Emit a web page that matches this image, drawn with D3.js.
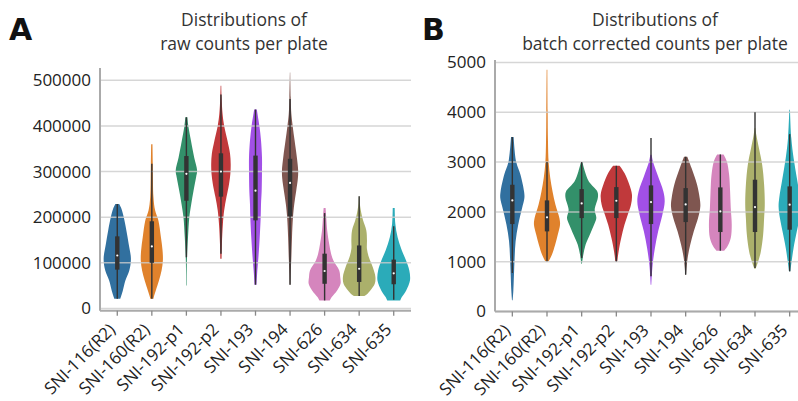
<!DOCTYPE html>
<html>
<head>
<meta charset="utf-8">
<script src="https://cdn.jsdelivr.net/npm/d3@7"></script>
<style>
  body { margin: 0; background: #fff; }
  svg { display: block; font-family: "Open Sans", sans-serif; }
</style>
</head>
<body>
<div id="chart"></div>
<script>
// plates, same order in both panels
var plates = ['SNI-116(R2)', 'SNI-160(R2)', 'SNI-192-p1', 'SNI-192-p2', 'SNI-193',
              'SNI-194', 'SNI-626', 'SNI-634', 'SNI-635'];

var plate_colors = ['#31709f', '#e0822c', '#33906a', '#c0393b', '#a150e6',
                    '#7f5650', '#d585bd', '#abb06b', '#2babb9'];

// violin outlines: [count, density]
var raw_profiles = [
  [[229000,6],[220000,12],[200000,20],[171000,28],[142000,35],[109000,42],[83000,37],[61000,25],[39000,17],[25000,11],[21000,9]],
  [[360000,2],[317000,3],[244000,5],[215000,10],[193000,20],[156000,28],[127000,33],[105000,34],[83000,30],[61000,22],[39000,12],[25000,6],[21000,5]],
  [[419000,3],[400000,6],[368000,14],[331000,24],[302000,33],[288000,30],[258000,22],[229000,15],[200000,9],[156000,5],[112000,2],[80000,1],[50000,0.8]],
  [[488000,1],[463000,2],[426000,5],[400000,10],[368000,20],[339000,28],[317000,30],[295000,29],[273000,25],[244000,17],[215000,10],[185000,6],[142000,3],[109000,2]],
  [[436000,4],[400000,12],[368000,17],[331000,20],[302000,20],[258000,19],[229000,17],[200000,16],[156000,13],[112000,9],[76000,5],[52000,3]],
  [[517000,0.5],[463000,2],[426000,4],[400000,8],[368000,14],[331000,21],[302000,25],[284000,24],[258000,19],[229000,13],[200000,9],[156000,6],[112000,4],[76000,2],[52000,1]],
  [[220000,3],[200000,5],[171000,8],[142000,14],[120000,20],[105000,27],[83000,45],[69000,48],[54000,49],[39000,38],[25000,22],[17500,16]],
  [[246000,1],[230000,2],[215000,5],[193000,12],[171000,22],[150000,24],[130000,24],[112000,30],[90000,42],[69000,50],[54000,48],[40000,35],[30000,22],[27000,15]],
  [[220000,3],[185000,5],[156000,12],[127000,25],[105000,38],[83000,48],[61000,50],[39000,38],[25000,25],[17500,20]]
];

// [whisker low, q1, median, q3, whisker high]
var raw_boxes = [
  [21000, 85000, 116000, 158000, 229000],
  [21000, 100000, 136000, 191000, 317000],
  [112000, 236000, 295000, 334000, 419000],
  [120000, 245000, 300000, 340000, 469000],
  [52000, 193000, 258000, 335000, 436000],
  [52000, 202000, 275000, 328000, 459000],
  [17500, 54000, 82000, 120000, 209000],
  [27000, 58000, 87000, 138000, 246000],
  [19000, 53000, 77000, 107000, 180000]
];

var batch_profiles = [
  [[3502,4],[3000,12],[2746,25],[2411,36],[2278,37],[2077,30],[1742,18],[1408,10],[1074,7],[739,5],[405,3],[224,1]],
  [[4853,1],[4017,2],[3415,3],[3000,5],[2679,10],[2411,17],[2144,26],[1876,38],[1742,40],[1542,33],[1341,25],[1140,15],[1007,5]],
  [[3000,2],[2813,10],[2612,22],[2411,48],[2300,50],[2043,40],[1876,45],[1742,38],[1542,25],[1341,12],[1140,5],[960,1]],
  [[2926,10],[2779,25],[2545,40],[2345,48],[2144,45],[1943,35],[1742,25],[1475,15],[1207,7],[1007,3]],
  [[3147,2],[3013,6],[2746,20],[2411,38],[2211,42],[1943,35],[1609,22],[1274,12],[940,5],[538,1]],
  [[3107,5],[2880,18],[2545,35],[2278,43],[2110,45],[1876,38],[1609,25],[1341,14],[1074,6],[739,1]],
  [[3154,10],[3013,20],[2746,27],[2411,30],[2077,32],[1742,35],[1475,32],[1308,22],[1221,12]],
  [[3683,1],[3548,4],[3281,12],[2946,22],[2545,28],[2144,30],[1876,28],[1542,25],[1207,18],[1007,10],[860,2]],
  [[4050,1],[3482,5],[3080,12],[2679,22],[2278,32],[2110,34],[1876,30],[1609,22],[1274,12],[1007,6],[806,2]]
];

var batch_boxes = [
  [773, 1756, 2231, 2545, 3502],
  [1007, 1609, 1890, 2231, 3000],
  [1074, 1876, 2171, 2458, 3000],
  [1007, 1876, 2224, 2498, 2926],
  [706, 1756, 2197, 2532, 3482],
  [739, 1796, 2151, 2478, 3107],
  [1221, 1596, 2010, 2492, 3154],
  [873, 1596, 2097, 2646, 4003],
  [806, 1642, 2144, 2512, 3562]
];

var raw_ticks = [0, 100000, 200000, 300000, 400000, 500000];
var batch_ticks = [0, 1000, 2000, 3000, 4000, 5000];

var W = 798, H = 401;

var svg = d3.select('#chart').append('svg')
    .attr('width', W)
    .attr('height', H);

var panels = [
  { letter: 'A', lx: 9, left: 100, right: 411, top: 68, bottom: 310.7,
    domain: [-5000, 527000], ticks: raw_ticks, title: ['Distributions of', 'raw counts per plate'],
    tx: 244, profiles: raw_profiles, boxes: raw_boxes },
  { letter: 'B', lx: 422, left: 495, right: 807, top: 60, bottom: 311.5,
    domain: [0, 5050], ticks: batch_ticks, title: ['Distributions of', 'batch corrected counts per plate'],
    tx: 655, profiles: batch_profiles, boxes: batch_boxes }
];

panels.forEach(function(p){
  var g = svg.append('g');

  var x = d3.scaleBand()
      .domain(plates)
      .range([p.left, p.right]);

  var y = d3.scaleLinear()
      .domain(p.domain)
      .range([p.bottom, p.top]);

  var w = d3.scaleLinear()
      .domain([0, 50])
      .range([0, x.bandwidth() * 0.47]);

  // violins
  var area = d3.area()
      .curve(d3.curveCatmullRom.alpha(0.5))
      .y(function(d){ return y(d[0]); });

  g.selectAll('.violin')
      .data(p.profiles)
    .enter().append('path')
      .attr('class', 'violin')
      .attr('fill', function(d, i){ return plate_colors[i]; })
      .attr('d', function(d, i){
        var cx = x(plates[i]) + x.bandwidth() / 2;
        return area
          .x0(function(e){ return cx - w(e[1]); })
          .x1(function(e){ return cx + w(e[1]); })(d);
      });

  // grid on top, faded
  g.append('g')
      .selectAll('line')
      .data(p.ticks)
    .enter().append('line')
      .attr('x1', p.left)
      .attr('x2', p.right)
      .attr('y1', function(d){ return y(d); })
      .attr('y2', function(d){ return y(d); })
      .attr('stroke', '#cccccc')
      .attr('stroke-opacity', 0.8)
      .attr('stroke-width', 1.5);

  // inner boxes
  var inner = g.selectAll('.inner')
      .data(p.boxes)
    .enter().append('g')
      .attr('class', 'inner')
      .attr('transform', function(d, i){
        return 'translate(' + (x(plates[i]) + x.bandwidth() / 2) + ',0)';
      });

  inner.append('line')
      .attr('y1', function(d){ return y(d[0]); })
      .attr('y2', function(d){ return y(d[4]); })
      .attr('stroke', '#333')
      .attr('stroke-width', 1.4);

  inner.append('rect')
      .attr('x', -2.2)
      .attr('width', 4.4)
      .attr('y', function(d){ return y(d[3]); })
      .attr('height', function(d){ return y(d[1]) - y(d[3]); })
      .attr('fill', '#333');

  inner.append('circle')
      .attr('cy', function(d){ return y(d[2]); })
      .attr('r', 1.1)
      .attr('fill', '#fff');

  // axes
  var ya = g.append('g')
      .attr('transform', 'translate(' + p.left + ',0)')
      .call(d3.axisLeft(y).tickValues(p.ticks).tickFormat(d3.format('d')).tickSize(0).tickPadding(9));
  ya.select('.domain').attr('stroke', '#aaa').attr('stroke-width', 2)
      .attr('d', 'M0,' + p.top + 'V' + p.bottom);
  ya.selectAll('text').attr('font-size', 17).attr('fill', '#222')
      .attr('font-family', '"Open Sans", sans-serif');

  var xa = g.append('g')
      .attr('transform', 'translate(0,' + p.bottom + ')')
      .call(d3.axisBottom(x).tickSize(5).tickPadding(3));
  xa.select('.domain').attr('stroke', '#aaa').attr('stroke-width', 2)
      .attr('d', 'M' + p.left + ',0H' + p.right);
  xa.selectAll('.tick line').attr('stroke', '#888').attr('stroke-width', 1.3);
  xa.selectAll('text')
      .attr('font-size', 17).attr('fill', '#222')
      .attr('font-family', '"Open Sans", sans-serif')
      .attr('text-anchor', 'end')
      .attr('x', 0).attr('y', 0).attr('dy', 0)
      .attr('transform', 'translate(-1,20) rotate(-45)');

  // titles
  g.selectAll('.title')
      .data(p.title)
    .enter().append('text')
      .attr('x', p.tx)
      .attr('y', function(d, i){ return 26 + i * 24; })
      .attr('text-anchor', 'middle')
      .attr('font-size', 17.5)
      .attr('fill', '#333')
      .text(function(d){ return d; });

  g.append('text')
      .attr('x', p.lx)
      .attr('y', 40)
      .attr('font-size', 30)
      .attr('font-weight', 'bold')
      .attr('font-family', '"DejaVu Sans", sans-serif')
      .attr('fill', '#111')
      .text(p.letter);
});
</script>
</body>
</html>
